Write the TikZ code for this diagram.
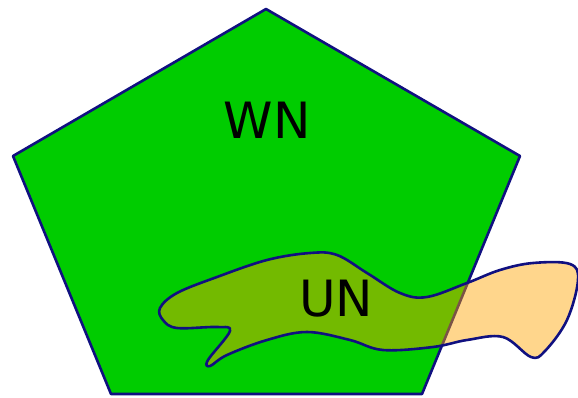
\documentclass[tikz,border=0pt]{standalone}
\usepackage{fontspec}
\setmainfont{DejaVu Sans}
\definecolor{pgreen}{HTML}{00CC00}
\definecolor{edge}{HTML}{101080}
\definecolor{porange}{HTML}{FFA500}
\begin{document}
\begin{tikzpicture}[x=1pt,y=-1pt,
  shapeline/.style={draw=edge,line width=2.6pt,line join=round},
  lbl/.style={font=\fontsize{50}{50}\selectfont,inner sep=0pt}]
\useasboundingbox (0,0) rectangle (578,397);
\coordinate (p1) at (266,9);
\coordinate (p2) at (520,156);
\coordinate (p3) at (422,394);
\coordinate (p4) at (111,394);
\coordinate (p5) at (13,156);
\filldraw[shapeline,fill=pgreen] (p1) -- (p2) -- (p3) -- (p4) -- (p5) -- cycle;
\node[lbl] (wn) at (267,120) {WN};
\filldraw[shapeline,fill=porange,fill opacity=0.45] plot[smooth cycle,tension=0.6] coordinates {
 (160,308) (177,293) (217,277) (267,260) (310,253) (337,255) (367,273)
 (400,293) (427,297) (467,283) (500,270) (533,263) (570,264) (578,280)
 (567,320) (545,351) (531,357) (503,337) (467,340) (433,347) (383,350)
 (350,340) (307,332) (267,340) (227,355) (210,366) (208,360) (230,331)
 (217,327) (177,328) (163,320)};
\node[lbl] (un) at (336,299) {UN};
\end{tikzpicture}
\end{document}
